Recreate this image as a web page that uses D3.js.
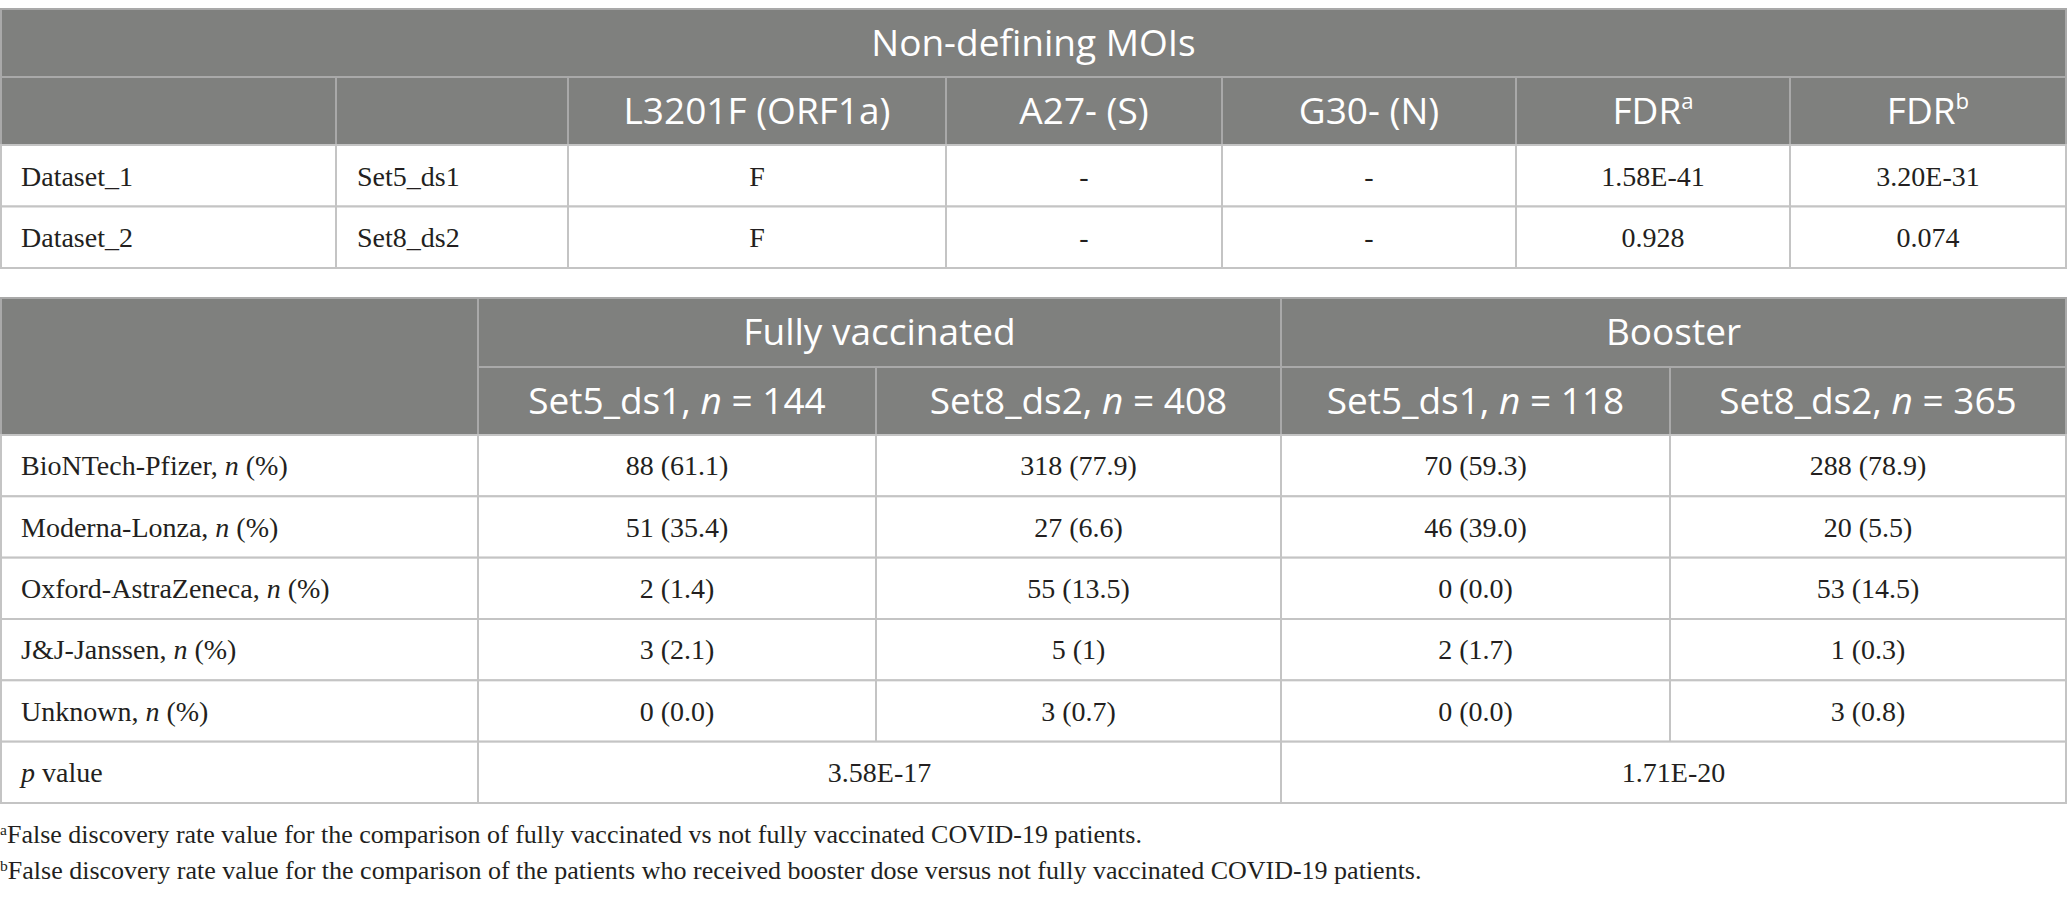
<!DOCTYPE html>
<html>
<head>
<meta charset="utf-8">
<script src="https://cdn.jsdelivr.net/npm/d3@7"></script>
<style>
  body { margin: 0; background: #fff; }
  .hd { font-family: "Open Sans", Lato, sans-serif; fill: #fff; font-size: 37px; }
  .bd { font-family: "Liberation Serif", serif; fill: #231f20; font-size: 28px; }
  .fn { font-family: "Liberation Serif", serif; fill: #231f20; font-size: 26px; }
</style>
</head>
<body>
<div id="table"></div>
<script>
// top table: non-defining MOIs
var moiTitle = "Non-defining MOIs";
var moiColumns = ["L3201F (ORF1a)", "A27- (S)", "G30- (N)", "FDR", "FDR"];
var moiMarks = ["", "", "", "a", "b"];
var moiDatasets = ["Dataset_1", "Dataset_2"];
var moiSets = ["Set5_ds1", "Set8_ds2"];
var l3201f = ["F", "F"];
var a27 = ["-", "-"];
var g30 = ["-", "-"];
var fdrA = ["1.58E-41", "0.928"];
var fdrB = ["3.20E-31", "0.074"];

// bottom table: vaccine brands per group, n (%)
var groups = ["Fully vaccinated", "Booster"];
var subsets = ["Set5_ds1", "Set8_ds2", "Set5_ds1", "Set8_ds2"];
var subsetN = [144, 408, 118, 365];
var vaccines = ["BioNTech-Pfizer", "Moderna-Lonza", "Oxford-AstraZeneca", "J&J-Janssen", "Unknown"];
var fullSet5 = ["88 (61.1)", "51 (35.4)", "2 (1.4)", "3 (2.1)", "0 (0.0)"];
var fullSet8 = ["318 (77.9)", "27 (6.6)", "55 (13.5)", "5 (1)", "3 (0.7)"];
var boostSet5 = ["70 (59.3)", "46 (39.0)", "0 (0.0)", "2 (1.7)", "0 (0.0)"];
var boostSet8 = ["288 (78.9)", "20 (5.5)", "53 (14.5)", "1 (0.3)", "3 (0.8)"];
var pValues = ["3.58E-17", "1.71E-20"];

var footMarks = ["a", "b"];
var footnotes = [
  "False discovery rate value for the comparison of fully vaccinated vs not fully vaccinated COVID-19 patients.",
  "False discovery rate value for the comparison of the patients who received booster dose versus not fully vaccinated COVID-19 patients."
];

// layout
var width = 2067, height = 897;
var headFill = "#7f807e", headLine = "#a9a9a9", bodyLine = "#c4c4c4";
var x1Edges = [1, 336, 568, 946, 1222, 1516, 1790, 2066];
var x2Edges = [1, 478, 876, 1281, 1670, 2066];
var head1 = [9, 77, 145], head2 = [298, 367, 435];
var padLeft = 21;

var svg = d3.select("#table")
  .append("svg")
    .attr("width", width)
    .attr("height", height);

var y1 = d3.scaleBand().domain(moiDatasets).range([145, 268]);
var y2 = d3.scaleBand().domain(vaccines.concat(["p value"])).range([435, 803]);

// draws one cell box
function cell(x0, x1, ya, yb, isHead) {
  svg.append("rect")
    .attr("x", x0).attr("y", ya)
    .attr("width", x1 - x0).attr("height", yb - ya)
    .attr("fill", isHead ? headFill : "#fff")
    .attr("stroke", isHead ? headLine : bodyLine)
    .attr("stroke-width", 2);
}

// text made of parts: {t, it, sup}
function label(x, y, parts, anchor, cls) {
  var txt = svg.append("text")
    .attr("class", cls)
    .attr("x", x).attr("y", y)
    .attr("dy", "0.35em")
    .attr("text-anchor", anchor);
  parts.forEach(function(p) {
    var ts = txt.append("tspan").text(p.t);
    if (p.it) ts.attr("font-style", "italic");
    if (p.sup) ts.attr("font-size", "0.6em").attr("baseline-shift", "super");
  });
  return txt;
}
function plain(s) { return [{t: s}]; }
function mid(a, b) { return (a + b) / 2; }

// ---------- top table ----------
cell(x1Edges[0], x1Edges[7], head1[0], head1[1], true);
label(mid(x1Edges[0], x1Edges[7]), mid(head1[0], head1[1]), plain(moiTitle), "middle", "hd");

for (var c = 0; c < 7; c++) {
  cell(x1Edges[c], x1Edges[c + 1], head1[1], head1[2], true);
}
moiColumns.forEach(function(name, i) {
  var parts = [{t: name}];
  if (moiMarks[i]) parts.push({t: moiMarks[i], sup: true});
  label(mid(x1Edges[i + 2], x1Edges[i + 3]), mid(head1[1], head1[2]), parts, "middle", "hd");
});

var moiValues = [l3201f, a27, g30, fdrA, fdrB];
moiDatasets.forEach(function(ds, r) {
  var ya = y1(ds), yb = ya + y1.bandwidth(), yc = ya + y1.bandwidth() / 2;
  for (var c = 0; c < 7; c++) cell(x1Edges[c], x1Edges[c + 1], ya, yb, false);
  label(x1Edges[0] + padLeft - 1, yc, plain(ds), "start", "bd");
  label(x1Edges[1] + padLeft, yc, plain(moiSets[r]), "start", "bd");
  moiValues.forEach(function(col, i) {
    label(mid(x1Edges[i + 2], x1Edges[i + 3]), yc, plain(col[r]), "middle", "bd");
  });
});

// ---------- bottom table ----------
cell(x2Edges[0], x2Edges[1], head2[0], head2[2], true);
groups.forEach(function(g, i) {
  var xa = x2Edges[1 + i * 2], xb = x2Edges[3 + i * 2];
  cell(xa, xb, head2[0], head2[1], true);
  label(mid(xa, xb), mid(head2[0], head2[1]), plain(g), "middle", "hd");
});
subsets.forEach(function(s, i) {
  var xa = x2Edges[1 + i], xb = x2Edges[2 + i];
  cell(xa, xb, head2[1], head2[2], true);
  label(mid(xa, xb), mid(head2[1], head2[2]),
    [{t: s + ", "}, {t: "n", it: true}, {t: " = " + subsetN[i]}], "middle", "hd");
});

var vaxValues = [fullSet5, fullSet8, boostSet5, boostSet8];
vaccines.forEach(function(v, r) {
  var ya = y2(v), yb = ya + y2.bandwidth(), yc = ya + y2.bandwidth() / 2;
  for (var c = 0; c < 5; c++) cell(x2Edges[c], x2Edges[c + 1], ya, yb, false);
  label(x2Edges[0] + padLeft - 1, yc,
    [{t: v + ", "}, {t: "n", it: true}, {t: " (%)"}], "start", "bd");
  vaxValues.forEach(function(col, i) {
    label(mid(x2Edges[i + 1], x2Edges[i + 2]), yc, plain(col[r]), "middle", "bd");
  });
});

var yp = y2("p value"), ypc = yp + y2.bandwidth() / 2;
cell(x2Edges[0], x2Edges[1], yp, yp + y2.bandwidth(), false);
label(x2Edges[0] + padLeft - 1, ypc, [{t: "p", it: true}, {t: " value"}], "start", "bd");
pValues.forEach(function(p, i) {
  var xa = x2Edges[1 + i * 2], xb = x2Edges[3 + i * 2];
  cell(xa, xb, yp, yp + y2.bandwidth(), false);
  label(mid(xa, xb), ypc, plain(p), "middle", "bd");
});

// footnotes
var yFoot = d3.scalePoint().domain(footMarks).range([834, 870]);
footnotes.forEach(function(f, i) {
  label(0, yFoot(footMarks[i]), [{t: footMarks[i], sup: true}, {t: f}], "start", "fn");
});
</script>
</body>
</html>
